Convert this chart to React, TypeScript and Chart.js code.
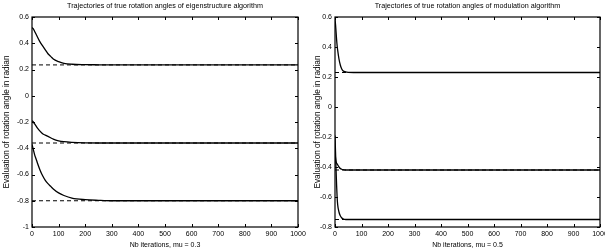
import React, { useEffect, useRef } from "react";
import { Chart, registerables } from "chart.js";

Chart.register(...registerables);

// ---------- Data ----------
const leftTitle = "Trajectories of true rotation angles of eigenstructure algorithm";
const rightTitle = "Trajectories of true rotation angles of modulation algorithm";
const yAxisTitle = "Evaluation of rotation angle in radian";
const leftXTitle = "Nb iterations, mu = 0.3";
const rightXTitle = "Nb iterations, mu = 0.5";

// Eigenstructure algorithm (left)
const leftIter = [0, 5, 10, 15, 20, 30, 40, 50, 60, 70, 80, 100, 120, 150, 200, 250, 300, 400, 500, 600, 700, 800, 900, 1000];
const leftAngle1 = [0.52, 0.51, 0.49, 0.47, 0.45, 0.41, 0.38, 0.35, 0.32, 0.3, 0.28, 0.26, 0.247, 0.24, 0.237, 0.236, 0.235, 0.235, 0.235, 0.235, 0.235, 0.235, 0.235, 0.235];
const leftAngle2 = [-0.19, -0.2, -0.215, -0.23, -0.245, -0.27, -0.29, -0.3, -0.31, -0.32, -0.33, -0.343, -0.35, -0.355, -0.359, -0.36, -0.36, -0.36, -0.36, -0.36, -0.36, -0.36, -0.36, -0.36];
const leftAngle3 = [-0.37, -0.41, -0.45, -0.48, -0.51, -0.565, -0.61, -0.645, -0.67, -0.69, -0.71, -0.74, -0.76, -0.78, -0.792, -0.797, -0.8, -0.8, -0.8, -0.8, -0.8, -0.8, -0.8, -0.8];
const leftTrue = [0.235, -0.36, -0.8];

// Modulation algorithm (right)
const rightIter = [0, 2, 4, 6, 8, 10, 15, 20, 25, 30, 40, 50, 70, 100, 200, 300, 400, 500, 600, 700, 800, 900, 1000];
const rightAngle1 = [0.58, 0.55, 0.5, 0.45, 0.41, 0.38, 0.32, 0.28, 0.255, 0.242, 0.234, 0.231, 0.23, 0.23, 0.23, 0.23, 0.23, 0.23, 0.23, 0.23, 0.23, 0.23, 0.23];
const rightAngle2 = [-0.3, -0.34, -0.365, -0.375, -0.38, -0.385, -0.4, -0.41, -0.415, -0.418, -0.42, -0.42, -0.42, -0.42, -0.42, -0.42, -0.42, -0.42, -0.42, -0.42, -0.42, -0.42, -0.42];
const rightAngle3 = [-0.19, -0.3, -0.42, -0.52, -0.6, -0.65, -0.7, -0.725, -0.738, -0.745, -0.75, -0.75, -0.75, -0.75, -0.75, -0.75, -0.75, -0.75, -0.75, -0.75, -0.75, -0.75, -0.75];
const rightTrue = [0.23, -0.42, -0.75];

const FONT = "'Liberation Sans', Arial, Helvetica, sans-serif";

const matlabAxes = {
  id: "matlabAxes",
  afterDatasetsDraw(chart: any) {
    const { ctx, chartArea, scales } = chart;
    const { left, right, top, bottom } = chartArea;
    const x = scales.x;
    const y = scales.y;
    ctx.save();
    ctx.strokeStyle = "#000";
    ctx.lineWidth = 1.2;
    ctx.strokeRect(left, top, right - left, bottom - top);
    ctx.lineWidth = 1;
    ctx.beginPath();
    const L = 3;
    x.ticks.forEach((t: any) => {
      const px = Math.round(x.getPixelForValue(t.value)) + 0.5;
      ctx.moveTo(px, bottom);
      ctx.lineTo(px, bottom - L);
      ctx.moveTo(px, top);
      ctx.lineTo(px, top + L);
    });
    y.ticks.forEach((t: any) => {
      const py = Math.round(y.getPixelForValue(t.value)) + 0.5;
      ctx.moveTo(left, py);
      ctx.lineTo(left + L, py);
      ctx.moveTo(right, py);
      ctx.lineTo(right - L, py);
    });
    ctx.stroke();
    // plot title, centred over the axes box (as in MATLAB)
    const t = chart.options.plugins.matlabAxes?.title;
    if (t) {
      ctx.fillStyle = "#000";
      ctx.font = `7.2px ${FONT}`;
      ctx.textAlign = "center";
      ctx.textBaseline = "middle";
      ctx.fillText(t, (left + right) / 2, 6.5);
    }
    ctx.restore();
  },
};

function makeConfig(
  title: string,
  xTitle: string,
  iters: number[],
  series: number[][],
  truth: number[],
  yMin: number,
  yMax: number,
  yWidth: number,
  yTitleTop: number,
  padRight: number
) {
  const solid = series.map((s) => ({
    data: iters.map((it, i) => ({ x: it, y: s[i] })),
    borderColor: "#000",
    borderWidth: 1.3,
    pointRadius: 0,
    cubicInterpolationMode: "monotone",
    fill: false,
  }));
  const dashed = truth.map((v) => ({
    data: [
      { x: 0, y: v },
      { x: 1000, y: v },
    ],
    borderColor: "#000",
    borderWidth: 1,
    borderDash: [4, 3],
    pointRadius: 0,
    fill: false,
  }));
  return {
    type: "line",
    data: { datasets: [...solid, ...dashed] },
    plugins: [matlabAxes],
    options: {
      animation: false,
      responsive: false,
      devicePixelRatio: 1,
      layout: { padding: { left: 0, right: padRight, top: 17, bottom: 0 } },
      plugins: {
        legend: { display: false },
        tooltip: { enabled: false },
        title: { display: false },
        matlabAxes: { title },
      },
      scales: {
        x: {
          type: "linear",
          min: 0,
          max: 1000,
          grid: { display: false, drawTicks: false },
          border: { display: false },
          ticks: {
            stepSize: 100,
            color: "#000",
            padding: 3,
            maxRotation: 0,
            font: { family: FONT, size: 7 },
            callback: (v: any) => String(Math.round(Number(v))),
          },
          title: {
            display: true,
            text: xTitle,
            color: "#000",
            font: { family: FONT, size: 7 },
            padding: { top: 0, bottom: 2 },
          },
          afterFit: (s: any) => {
            s.height = 24;
          },
        },
        y: {
          type: "linear",
          min: yMin,
          max: yMax,
          grid: { display: false, drawTicks: false },
          border: { display: false },
          ticks: {
            stepSize: 0.2,
            color: "#000",
            padding: 3,
            font: { family: FONT, size: 7 },
            callback: (v: any) => String(Math.round(Number(v) * 10) / 10),
          },
          title: {
            display: true,
            text: yAxisTitle,
            color: "#000",
            font: { family: FONT, size: 8.2 },
            padding: { top: yTitleTop, bottom: 0 },
          },
          afterFit: (s: any) => {
            s.width = yWidth;
          },
        },
      },
    },
  };
}

function Panel(props: { cfg: any; left: number; width: number }) {
  const ref = useRef<HTMLCanvasElement | null>(null);
  useEffect(() => {
    if (!ref.current) return;
    const chart = new Chart(ref.current, props.cfg);
    return () => chart.destroy();
  }, []);
  return (
    <canvas
      ref={ref}
      width={props.width}
      height={251}
      style={{ position: "absolute", left: props.left, top: 0, width: props.width, height: 251 }}
    />
  );
}

export default function App() {
  useEffect(() => {
    document.body.style.margin = "0";
    document.body.style.overflow = "hidden";
  }, []);
  const leftCfg = makeConfig(leftTitle, leftXTitle, leftIter, [leftAngle1, leftAngle2, leftAngle3], leftTrue, -1, 0.6, 32, 2, 14);
  const rightCfg = makeConfig(rightTitle, rightXTitle, rightIter, [rightAngle1, rightAngle2, rightAngle3], rightTrue, -0.8, 0.6, 35, 13, 12);
  return (
    <div style={{ position: "fixed", left: 0, top: 0, width: 605, height: 251, overflow: "hidden", background: "#fff" }}>
      <Panel cfg={leftCfg} left={0} width={312} />
      <Panel cfg={rightCfg} left={300} width={312} />
    </div>
  );
}
